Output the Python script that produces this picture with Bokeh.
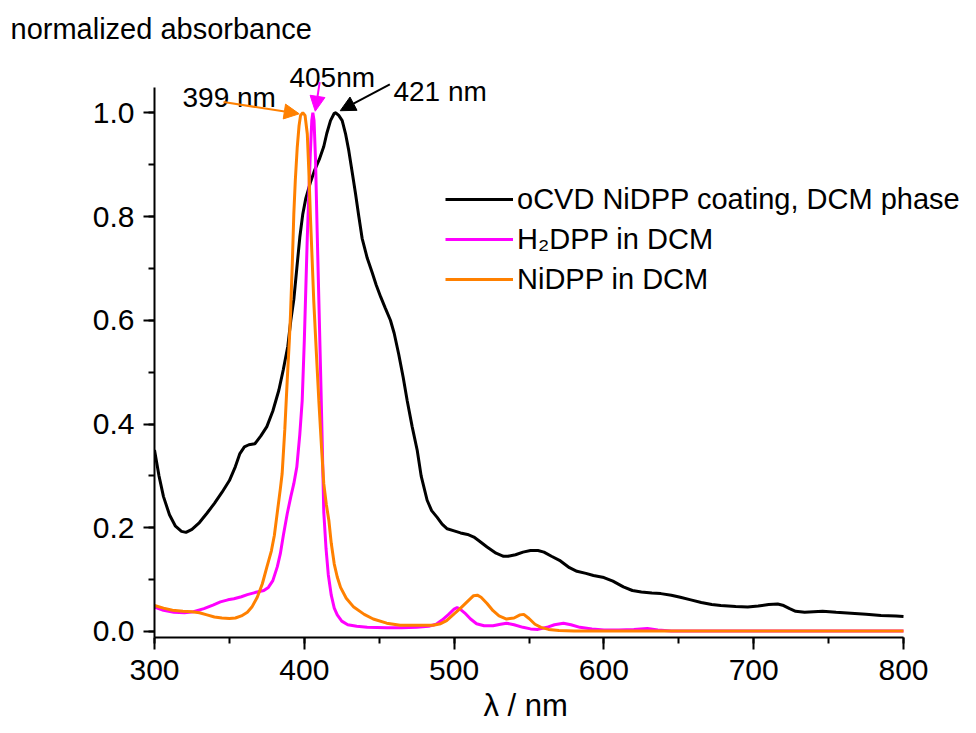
from bokeh.plotting import figure
from bokeh.models import (Range1d, SingleIntervalTicker, NumeralTickFormatter, Legend, LegendItem,
                          Label, Arrow, NormalHead, Title)
from bokeh.embed import file_html
from bokeh.resources import INLINE

# ---------------- data ----------------
wl_ocvd = [300, 303, 306, 310, 314, 318, 321, 325, 330, 335, 340, 345, 350, 354, 357, 360, 363, 367,
           371, 375, 379, 383, 386, 389, 391, 393, 395, 397, 399, 401, 404, 407, 410, 413, 415, 417.5,
           420, 421, 423, 425.3, 427.5, 429.7, 432, 434.2, 436.4, 438.6, 442, 445.3, 448, 451, 454,
           457.5, 460, 463, 466, 468.7, 472, 475.4, 478, 482, 485, 488.7, 492, 495.4, 500, 504.3, 509,
           513.2, 517, 522, 528, 533, 536, 541, 546, 551, 556, 560, 565, 571, 577, 582, 588, 593, 600,
           606, 613, 619, 625, 632, 638, 645, 651, 658, 665, 672, 678, 688, 696, 703, 710, 716, 720,
           724, 728, 734, 740, 746, 755, 765, 775, 785, 795, 800]
abs_ocvd = [0.350, 0.300, 0.260, 0.225, 0.203, 0.193, 0.191, 0.197, 0.210, 0.228, 0.247, 0.268, 0.291,
            0.318, 0.343, 0.356, 0.360, 0.362, 0.377, 0.395, 0.425, 0.465, 0.505, 0.550, 0.600, 0.640,
            0.700, 0.760, 0.805, 0.835, 0.865, 0.890, 0.910, 0.935, 0.960, 0.985, 0.999, 1.000, 0.995,
            0.985, 0.960, 0.927, 0.885, 0.844, 0.800, 0.758, 0.720, 0.692, 0.668, 0.645, 0.624, 0.600,
            0.575, 0.535, 0.490, 0.445, 0.395, 0.349, 0.300, 0.253, 0.233, 0.220, 0.207, 0.198, 0.194,
            0.190, 0.187, 0.182, 0.174, 0.163, 0.151, 0.145, 0.145, 0.148, 0.153, 0.156, 0.156, 0.153,
            0.145, 0.136, 0.123, 0.116, 0.112, 0.108, 0.104, 0.097, 0.086, 0.079, 0.076, 0.074, 0.073,
            0.070, 0.066, 0.061, 0.056, 0.052, 0.050, 0.048, 0.047, 0.049, 0.052, 0.053, 0.050, 0.044,
            0.039, 0.037, 0.038, 0.039, 0.037, 0.035, 0.033, 0.031, 0.030, 0.029]

wl_h2dpp = [300, 306, 313, 320, 326, 333, 339, 344, 349, 353, 358, 362, 367, 373, 376, 379, 382, 384,
            386, 388.6, 391, 393, 395, 397, 398.6, 400, 401, 402, 403, 404, 405, 405.7, 406.5, 407.5,
            408.6, 409.7, 410.8, 412, 413, 414.5, 416, 418, 420, 422, 425, 429, 435, 442, 455, 465, 475,
            483, 488, 492, 496, 500, 502, 504, 507, 511, 515, 520, 526, 531, 535, 540, 546, 551, 556,
            562, 567, 573, 578, 584, 592, 600, 610, 620, 629, 636, 645, 660, 700, 750, 800]
abs_h2dpp = [0.047, 0.041, 0.037, 0.036, 0.038, 0.044, 0.051, 0.057, 0.061, 0.063, 0.067, 0.071, 0.075,
             0.079, 0.085, 0.098, 0.125, 0.150, 0.185, 0.227, 0.260, 0.285, 0.317, 0.380, 0.445, 0.560,
             0.660, 0.760, 0.840, 0.920, 0.985, 1.000, 0.985, 0.910, 0.770, 0.640, 0.510, 0.360, 0.230,
             0.160, 0.110, 0.070, 0.045, 0.032, 0.020, 0.013, 0.010, 0.008, 0.007, 0.007, 0.008, 0.010,
             0.014, 0.022, 0.032, 0.043, 0.046, 0.043, 0.036, 0.024, 0.015, 0.011, 0.011, 0.014, 0.016,
             0.013, 0.008, 0.005, 0.004, 0.008, 0.013, 0.016, 0.013, 0.008, 0.005, 0.003, 0.003, 0.004,
             0.006, 0.003, 0.001, 0.001, 0.001, 0.001, 0.001]

wl_nidpp = [300, 306, 312, 319, 325, 330, 335, 340, 345, 350, 354, 358, 362, 365, 368.6, 372, 375, 378,
            380, 382, 384, 385.2, 387, 388.6, 390, 390.8, 392, 393, 394, 395.3, 396.5, 397.5, 399,
            400.5, 402, 403, 404.1, 405.2, 406.3, 408, 409.7, 411.5, 413, 414.7, 416.4, 418, 420, 422,
            424.2, 428, 433, 440, 446, 455, 464, 475, 486, 491, 495, 500, 504, 509, 513, 515.5, 518,
            522, 526, 530, 535, 540, 544, 546.5, 550, 554, 558, 563, 570, 580, 600, 650, 700, 750, 800]
abs_nidpp = [0.050, 0.045, 0.041, 0.039, 0.038, 0.036, 0.032, 0.028, 0.026, 0.025, 0.026, 0.030, 0.037,
             0.047, 0.066, 0.092, 0.124, 0.155, 0.185, 0.230, 0.275, 0.304, 0.390, 0.484, 0.560, 0.612,
             0.710, 0.805, 0.870, 0.934, 0.975, 0.995, 1.000, 0.995, 0.959, 0.890, 0.799, 0.720, 0.638,
             0.540, 0.445, 0.355, 0.285, 0.245, 0.214, 0.170, 0.130, 0.105, 0.085, 0.064, 0.047, 0.033,
             0.024, 0.016, 0.012, 0.012, 0.012, 0.015, 0.021, 0.034, 0.044, 0.058, 0.069, 0.070, 0.066,
             0.054, 0.040, 0.030, 0.024, 0.026, 0.032, 0.033, 0.025, 0.014, 0.008, 0.004, 0.002, 0.001,
             0.001, 0.001, 0.001, 0.001, 0.001]

series_names = ["oCVD NiDPP coating, DCM phase", "H\u2082DPP in DCM", "NiDPP in DCM"]
series_colors = ["#000000", "#ff00ff", "#ff8000"]
peak_labels = ["399 nm", "405nm", "421 nm"]
peak_colors = ["#ff8000", "#ff00ff", "#000000"]
x_title = "\u03bb / nm"
y_title = "normalized absorbance"

FONT = "Liberation Sans"

# axis extents (the frame is made larger so that texts outside the axes are not clipped)
X_AX = (300, 800)
Y_AX = (-0.0116, 1.0488)
PX_PER_X = 1.498     # pixels per nm
PX_PER_Y = 518.7     # pixels per absorbance unit
LEFT, TOP, BOTTOM = 154, 45, 96
W, H = 976, 733
x_end = X_AX[0] + (W - LEFT) / PX_PER_X
y_end = Y_AX[0] + (H - TOP - BOTTOM) / PX_PER_Y

p = figure(width=W, height=H, output_backend="svg", toolbar_location=None,
           x_range=Range1d(X_AX[0], x_end), y_range=Range1d(Y_AX[0], y_end),
           min_border_left=LEFT, min_border_right=0, min_border_top=TOP, min_border_bottom=BOTTOM)
p.outline_line_color = None
p.grid.visible = False
p.background_fill_color = "white"
p.border_fill_color = "white"

p.title.text = y_title
p.title.align = "left"
p.title.offset = -144
p.title.standoff = 2
p.title.text_font = FONT
p.title.text_font_size = "29px"
p.title.text_font_style = "normal"
p.title.text_color = "black"

r1 = p.line(wl_ocvd, abs_ocvd, line_color=series_colors[0], line_width=3)
r2 = p.line(wl_h2dpp, abs_h2dpp, line_color=series_colors[1], line_width=3)
r3 = p.line(wl_nidpp, abs_nidpp, line_color=series_colors[2], line_width=3)

xa = p.xaxis[0]
xa.ticker = SingleIntervalTicker(interval=100, num_minor_ticks=2)
xa.bounds = X_AX
ya = p.yaxis[0]
ya.ticker = SingleIntervalTicker(interval=0.2, num_minor_ticks=2)
ya.formatter = NumeralTickFormatter(format="0.0")
ya.bounds = Y_AX
for ax in (xa, ya):
    ax.axis_line_width = 2
    ax.major_tick_line_width = 2
    ax.minor_tick_line_width = 2
    ax.major_tick_in = 0
    ax.minor_tick_in = 0
    ax.minor_tick_out = 6
    ax.major_label_text_font = FONT
    ax.major_label_text_font_size = "30px"
    ax.major_label_text_color = "black"
    ax.axis_line_color = "black"
    ax.major_tick_line_color = "black"
    ax.minor_tick_line_color = "black"
xa.major_tick_out = 12
ya.major_tick_out = 11
xa.major_label_standoff = 10
ya.major_label_standoff = 9

p.add_layout(Title(text=x_title, align="left", offset=329, standoff=6, text_font=FONT,
                   text_font_size="31px", text_font_style="normal", text_color="black"), "below")

# legend
legend = Legend(items=[LegendItem(label=series_names[0], renderers=[r1]),
                       LegendItem(label=series_names[1], renderers=[r2]),
                       LegendItem(label=series_names[2], renderers=[r3])],
                location=(291, 338), glyph_width=68, glyph_height=40, label_height=40,
                spacing=0, padding=0, margin=0, label_standoff=4,
                border_line_alpha=0, background_fill_alpha=0,
                label_text_font=FONT, label_text_font_size="29px", label_text_color="black")
p.add_layout(legend)

# peak annotations: label x, label y, arrow start (x, y), arrow end (x, y)
ann = [
    (318.7, 1.030, 346.1, 1.0206, 396.6, 0.998),
    (390.1, 1.0687, 410.3, 1.059, 407.3, 1.003),
    (459.5, 1.0417, 457.1, 1.0546, 424.0, 1.004),
]
for (lx, ly, xs, ys, xe, ye), txt, col in zip(ann, peak_labels, peak_colors):
    p.add_layout(Label(x=lx, y=ly, text=txt, text_font=FONT, text_font_size="28px",
                       text_baseline="alphabetic", text_color="black"))
    p.add_layout(Arrow(x_start=xs, y_start=ys, x_end=xe, y_end=ye, line_color=col, line_width=2,
                       end=NormalHead(size=15, fill_color=col, line_color=col, line_width=1)))

open("out.html", "w").write(file_html(p, INLINE))
